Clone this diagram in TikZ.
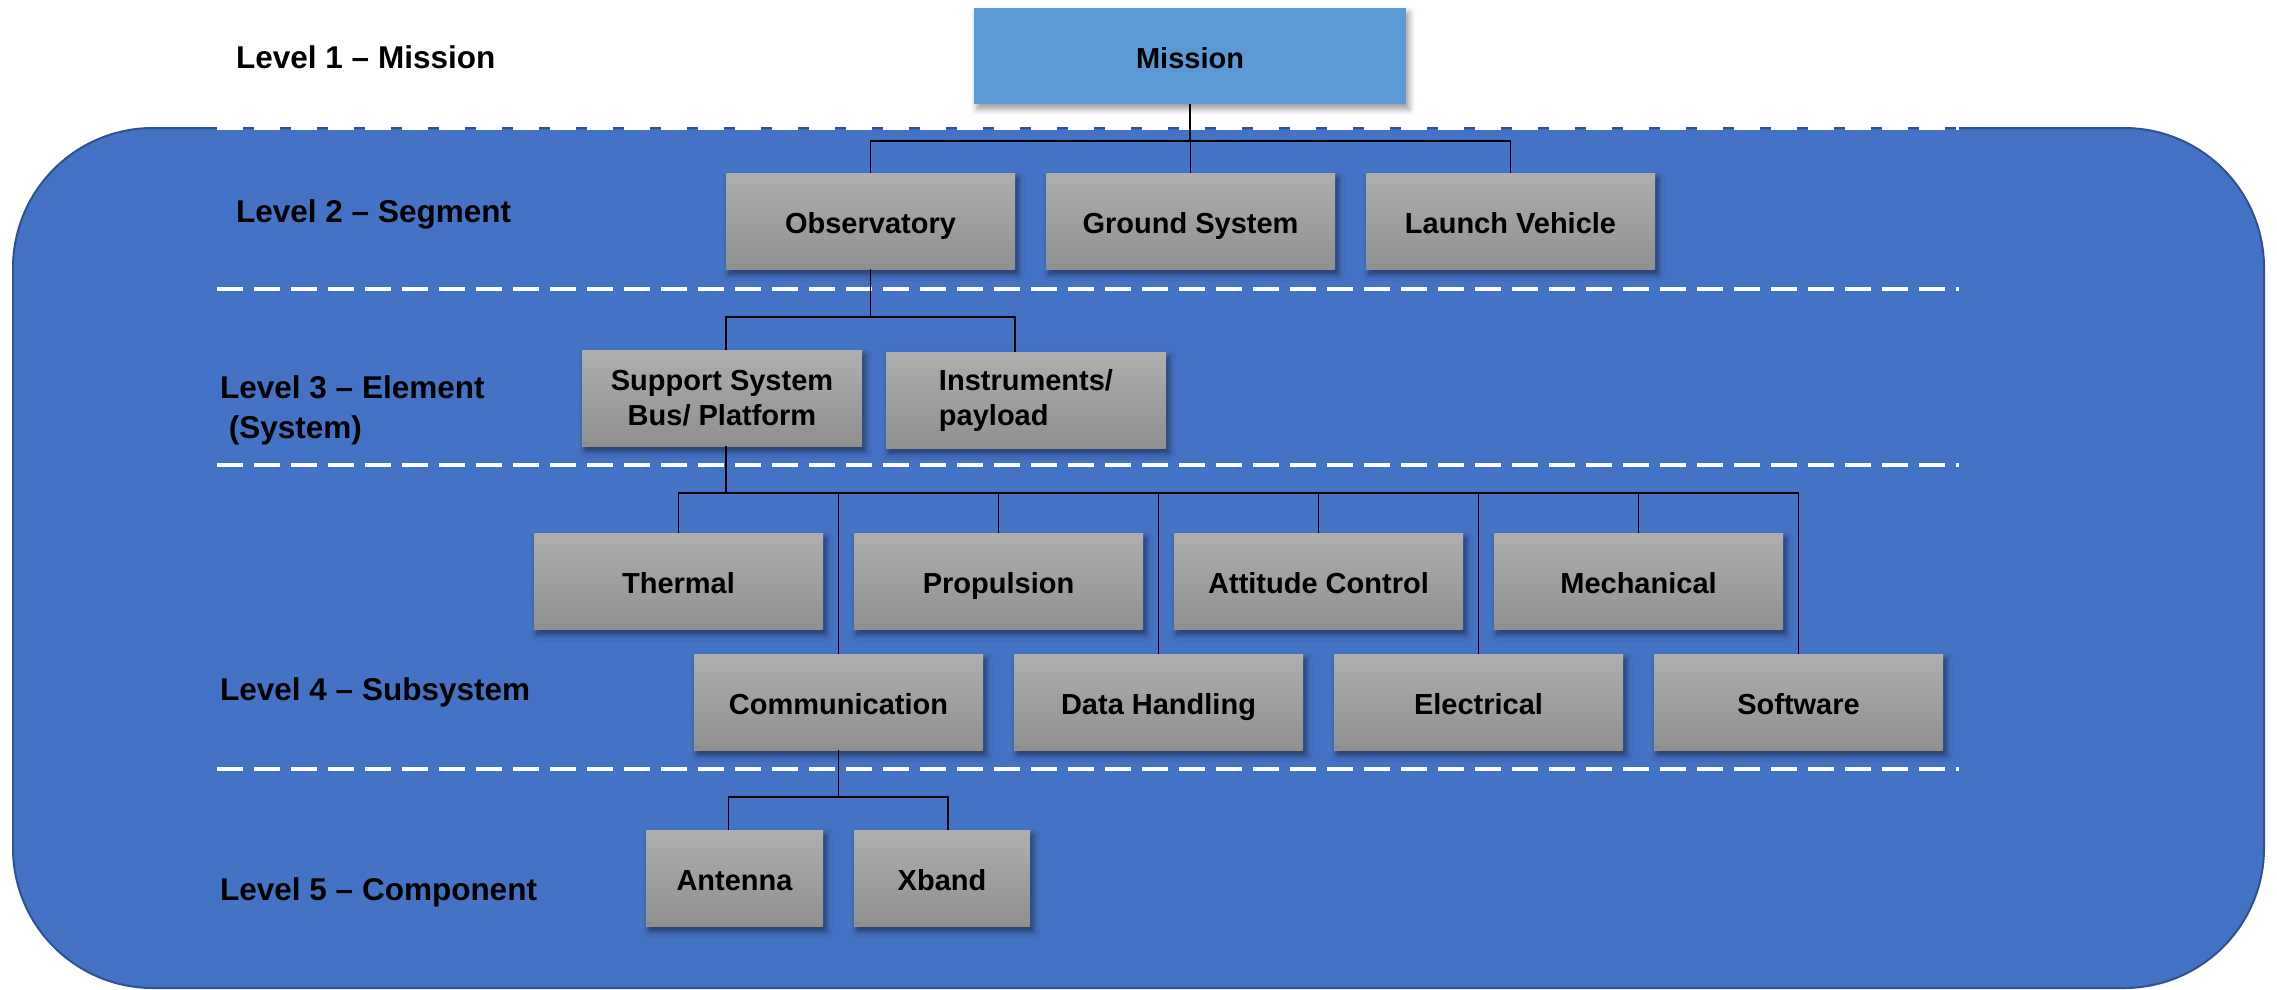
\documentclass[tikz,border=0pt]{standalone}
\usepackage{fontspec}
\setmainfont{Liberation Sans}
\usetikzlibrary{shadows.blur}
\definecolor{bgblue}{HTML}{4472C4}
\definecolor{bgedge}{HTML}{2F528F}
\definecolor{mblue}{HTML}{5B9BD5}
\definecolor{gtop}{HTML}{AEAEAE}
\definecolor{gbot}{HTML}{8F8F8F}
\begin{document}
\begin{tikzpicture}[x=1pt,y=-1pt,
  boxshadow/.style={blur shadow={shadow xshift=3pt, shadow yshift=-5pt, shadow blur radius=6pt, shadow opacity=50}},
  gbox/.style={rectangle, top color=gtop, bottom color=gbot, draw=none,
    font=\fontsize{29}{35}\selectfont\bfseries, inner sep=0pt,
    minimum height=96pt, minimum width=289pt, boxshadow},
  single/.style={text height=24pt, text depth=0pt},
  lvl/.style={anchor=base west, font=\fontsize{31.5}{40}\selectfont\bfseries, inner sep=0pt},
  conn/.style={draw=black, line width=1.5pt},
  sep/.style={draw=white, line width=4pt, dash pattern=on 26pt off 11pt}]
\useasboundingbox (0,0) rectangle (2277,990);
% background panel
\draw[fill=bgblue, draw=bgedge, line width=2pt, rounded corners=140pt] (13,128) rectangle (2264,988);
% separators
\draw[sep] (217,128) -- (1959,128);
\draw[sep] (217,289) -- (1959,289);
\draw[sep] (217,465) -- (1959,465);
\draw[sep] (217,769) -- (1959,769);
% level labels
\node[lvl] (l1) at (236,69) {Level 1 – Mission};
\node[lvl] (l2) at (236,222) {Level 2 – Segment};
\node[lvl, anchor=west, align=left] (l3) at (220,410) {Level 3 – Element\\~(System)};
\node[lvl] (l4) at (220,700) {Level 4 – Subsystem};
\node[lvl] (l5) at (220,900) {Level 5 – Component};
% level 1
\node[rectangle, fill=mblue, inner sep=0pt, minimum width=432pt, minimum height=96pt,
  font=\fontsize{29}{35}\selectfont\bfseries, single,
  blur shadow={shadow xshift=3pt, shadow yshift=-5pt, shadow blur radius=6pt, shadow opacity=40}]
  (mis) at (1190,56) {Mission};
% level 2
\node[gbox, single] (obs) at (870.5,221) {Observatory};
\node[gbox, single] (gs) at (1190.5,221) {Ground System};
\node[gbox, single] (lv) at (1510.5,221) {Launch Vehicle};
% level 3
\node[gbox, minimum width=280pt, align=center] (sup) at (722,398) {Support System\\Bus/ Platform};
\node[gbox, minimum width=280pt, align=left, yshift=-2pt] (ins) at (1026,398) {Instruments/\\payload};
% level 4
\node[gbox, single] (th) at (678.5,581) {Thermal};
\node[gbox, single] (pr) at (998.5,581) {Propulsion};
\node[gbox, single] (ac) at (1318.5,581) {Attitude Control};
\node[gbox, single] (me) at (1638.5,581) {Mechanical};
\node[gbox, single] (com) at (838.5,702) {Communication};
\node[gbox, single] (dh) at (1158.5,702) {Data Handling};
\node[gbox, single] (el) at (1478.5,702) {Electrical};
\node[gbox, single] (sw) at (1798.5,702) {Software};
% level 5
\node[gbox, single, minimum width=177pt] (ant) at (734.5,878) {Antenna};
\node[gbox, single, minimum width=176pt] (xb) at (942,878) {Xband};
% junction points
\coordinate (b2) at (1190,141);
\coordinate (b3) at (870.5,317);
\coordinate (b4) at (726,493);
\coordinate (b5) at (838.5,797);
% connectors
\draw[conn] (mis.south) -- (b2);
\draw[conn] (obs.north) |- (b2) -| (lv.north);
\draw[conn] (gs.north) -- (gs.north |- b2);
\draw[conn] (obs.south) -- (b3);
\draw[conn] ([xshift=4pt]sup.north) |- (b3) -| ([xshift=-11pt]ins.north);
\draw[conn] ([xshift=4pt]sup.south) -- (b4);
\draw[conn] (th.north) |- (b4) -| (sw.north);
\draw[conn] (pr.north) -- (pr.north |- b4);
\draw[conn] (ac.north) -- (ac.north |- b4);
\draw[conn] (me.north) -- (me.north |- b4);
\draw[conn] (com.north) -- (com.north |- b4);
\draw[conn] (dh.north) -- (dh.north |- b4);
\draw[conn] (el.north) -- (el.north |- b4);
\draw[conn] (com.south) -- (b5);
\draw[conn] ([xshift=-6pt]ant.north) |- (b5) -| ([xshift=6pt]xb.north);
\end{tikzpicture}
\end{document}
